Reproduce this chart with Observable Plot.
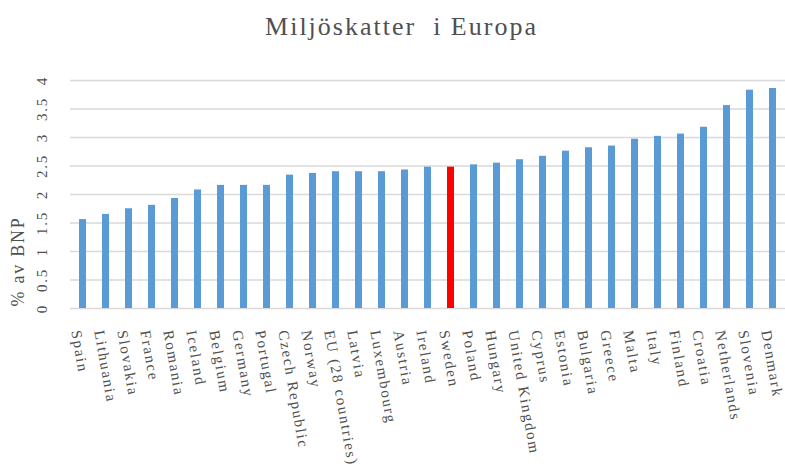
<!DOCTYPE html>
<html><head><meta charset="utf-8">
<script src="https://cdn.jsdelivr.net/npm/d3@7"></script>
<script src="https://cdn.jsdelivr.net/npm/@observablehq/plot@0.6"></script>
<style>
body{margin:0;background:#fff;}
#title{height:54px;line-height:54px;text-align:center;padding-left:18px;font-family:"Liberation Serif",serif;font-size:26px;letter-spacing:2px;color:#505050;white-space:pre;}
#chart svg{display:block;}
</style></head>
<body><div id="title">Miljöskatter  i Europa</div><div id="chart"></div>
<script>
const countries = ["Spain","Lithuania","Slovakia","France","Romania","Iceland","Belgium","Germany","Portugal","Czech Republic","Norway","EU (28 countries)","Latvia","Luxembourg","Austria","Ireland","Sweden","Poland","Hungary","United Kingdom","Cyprus","Estonia","Bulgaria","Greece","Malta","Italy","Finland","Croatia","Netherlands","Slovenia","Denmark"];
const values = [1.56,1.65,1.75,1.81,1.93,2.08,2.16,2.16,2.16,2.34,2.37,2.40,2.40,2.40,2.43,2.48,2.48,2.52,2.55,2.61,2.67,2.76,2.82,2.85,2.97,3.02,3.06,3.18,3.56,3.83,3.86];
const highlight = "Sweden";
const yTicks = [0,0.5,1,1.5,2,2.5,3,3.5,4];
const yLabel = "% av BNP";

const data = countries.map((c,i)=>({country:c, value:values[i]}));
const chart = Plot.plot({
  width:785, height:416, marginLeft:70, marginRight:0, marginTop:26, marginBottom:162,
  style:{fontFamily:"Liberation Serif, serif", fontSize:"15px", letterSpacing:"1.75px", color:"#505050", background:"#fff"},
  x:{domain:countries, paddingInner:0.7, paddingOuter:0.36, label:null},
  y:{domain:[0,4], label:null},
  color:{type:"identity"},
  marks:[
    Plot.gridY(yTicks, {stroke:"#d9d9d9", strokeOpacity:1, strokeWidth:1.3}),
    Plot.barY(data, {x:"country", y:"value", fill:d=>d.country===highlight?"#ff0000":"#5b9bd5"}),
    Plot.axisX({tickRotate:80, tickSize:0, tickPadding:22, dx:-7, label:null}),
    Plot.axisY(yTicks, {tickRotate:-90, tickSize:0, tickPadding:24, tickFormat:d=>String(d), label:null}),
    Plot.text([yLabel], {frameAnchor:"left", rotate:-90, dx:-52, dy:112, fontSize:18, fill:"#505050"})
  ]
});
document.getElementById("chart").appendChild(chart);
</script>
</body></html>
